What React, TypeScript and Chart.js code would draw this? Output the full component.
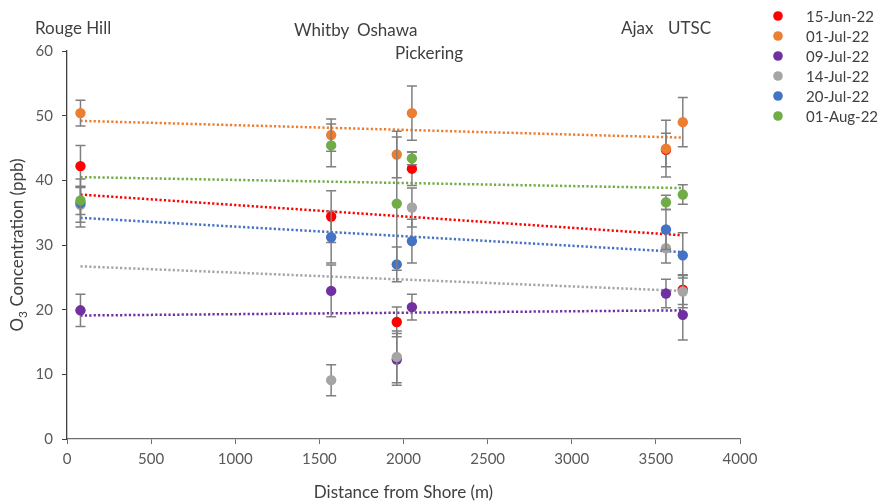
import React, { useEffect, useRef } from "react";
import { Chart, registerables } from "chart.js";

Chart.register(...registerables);

// ---- data ----
const siteNames = ["Rouge Hill", "Whitby", "Oshawa", "Pickering", "Ajax", "UTSC"];
const siteDistances = [80, 1570, 1960, 2050, 3560, 3660];

const seriesLabels = ["15-Jun-22", "01-Jul-22", "09-Jul-22", "14-Jul-22", "20-Jul-22", "01-Aug-22"];
const seriesColors = ["#FF0000", "#ED7D31", "#7030A0", "#A5A5A5", "#4472C4", "#70AD47"];

const jun15 = [42.2, 34.4, 18.1, 41.8, 44.7, 23.1];
const jul01 = [50.4, 47.0, 44.0, 50.4, 44.9, 49.0];
const jul09 = [19.9, 22.9, 12.3, 20.4, 22.5, 19.2];
const jul14 = [36.2, 9.1, 12.7, 35.8, 29.5, 22.8];
const jul20 = [36.5, 31.2, 27.0, 30.6, 32.4, 28.4];
const aug01 = [36.9, 45.4, 36.4, 43.4, 36.6, 37.8];

const jun15Err = [3.2, 4.0, 2.3, 2.6, 2.6, 2.3];
const jul01Err = [2.0, 2.5, 3.6, 4.2, 4.4, 3.8];
const jul09Err = [2.5, 4.0, 4.0, 2.0, 2.2, 3.9];
const jul14Err = [2.7, 2.4, 4.0, 3.0, 2.3, 2.5];
const jul20Err = [3.7, 4.0, 2.7, 3.4, 3.1, 3.5];
const aug01Err = [2.2, 3.3, 10.3, 1.0, 1.1, 1.5];

// linear trend line values at first and last site
const trendStart = [37.8, 49.2, 19.1, 26.7, 34.2, 40.5];
const trendEnd = [31.5, 46.6, 19.9, 22.9, 28.9, 38.8];

const seriesValues = [jun15, jul01, jul09, jul14, jul20, aug01];
const seriesErrors = [jun15Err, jul01Err, jul09Err, jul14Err, jul20Err, aug01Err];

const xMin = 0, xMax = 4000, xStep = 500;
const yMin = 0, yMax = 60, yStep = 10;

const FONT = "Lato, 'Open Sans', sans-serif";
const TEXT = "#404040";

// ---- layout of the annotation text (pixels) ----
const siteLabelPos: Record<string, [number, number]> = {
  "Rouge Hill": [35, 29],
  Whitby: [294, 31],
  Oshawa: [357, 31],
  Pickering: [395, 54],
  Ajax: [621, 29],
  UTSC: [668, 29],
};

const errorBarPlugin = {
  id: "errorBars",
  beforeDatasetDraw(chart: any, args: any) {
    const ds = chart.data.datasets[args.index];
    if (!ds.errors) return;
    const xs = chart.scales.x, ys = chart.scales.y;
    const ctx = chart.ctx;
    ctx.save();
    ctx.strokeStyle = "#7F7F7F";
    ctx.lineWidth = 1.5;
    ds.data.forEach((p: any, i: number) => {
      const e = ds.errors[i];
      const px = xs.getPixelForValue(p.x);
      const top = ys.getPixelForValue(p.y + e);
      const bot = ys.getPixelForValue(p.y - e);
      ctx.beginPath();
      ctx.moveTo(px, top);
      ctx.lineTo(px, bot);
      ctx.moveTo(px - 5, top);
      ctx.lineTo(px + 5, top);
      ctx.moveTo(px - 5, bot);
      ctx.lineTo(px + 5, bot);
      ctx.stroke();
    });
    ctx.restore();
  },
};

const annotationPlugin = {
  id: "annotations",
  afterDraw(chart: any) {
    const ctx = chart.ctx;
    const area = chart.chartArea;
    ctx.save();
    ctx.fillStyle = TEXT;
    ctx.textBaseline = "middle";
    ctx.textAlign = "left";
    ctx.font = `17px ${FONT}`;
    siteNames.forEach((n) => {
      const [x, y] = siteLabelPos[n];
      ctx.fillText(n, x, y);
    });

    // legend
    ctx.font = `15px ${FONT}`;
    seriesLabels.forEach((l, i) => {
      const y = 16 + i * 20;
      ctx.fillStyle = seriesColors[i];
      ctx.beginPath();
      ctx.arc(778, y, 4.8, 0, Math.PI * 2);
      ctx.fill();
      ctx.fillStyle = TEXT;
      ctx.fillText(l, 806, y + 1);
    });

    // x title
    ctx.font = `17px ${FONT}`;
    ctx.textAlign = "center";
    ctx.fillText("Distance from Shore (m)", (area.left + area.right) / 2, 493);

    // y title with subscript
    ctx.translate(18, (area.top + area.bottom) / 2);
    ctx.rotate(-Math.PI / 2);
    ctx.textAlign = "left";
    const f = `17px ${FONT}`;
    const fs = `12px ${FONT}`;
    ctx.font = f;
    const wO = ctx.measureText("O").width;
    const rest = " Concentration (ppb)";
    const wR = ctx.measureText(rest).width;
    ctx.font = fs;
    const w3 = ctx.measureText("3").width;
    const total = wO + w3 + wR;
    let x0 = -total / 2;
    ctx.font = f;
    ctx.fillText("O", x0, 0);
    ctx.font = fs;
    ctx.fillText("3", x0 + wO, 5);
    ctx.font = f;
    ctx.fillText(rest, x0 + wO + w3, 0);
    ctx.restore();
  },
};

export default function App() {
  const ref = useRef<HTMLCanvasElement>(null);
  useEffect(() => {
    document.body.style.margin = "0";
    const first = siteDistances[0];
    const last = siteDistances[siteDistances.length - 1];
    const trendSets = seriesLabels.map((l, i) => ({
      type: "line" as const,
      label: l + " trend",
      data: [
        { x: first, y: trendStart[i] },
        { x: last, y: trendEnd[i] },
      ],
      borderColor: seriesColors[i],
      borderWidth: 2.5,
      borderDash: [2.2, 2.2],
      pointRadius: 0,
      fill: false,
      order: 100,
    }));
    const pointSets = seriesLabels.map((l, i) => ({
      type: "scatter" as const,
      label: l,
      data: siteDistances.map((x, j) => ({ x, y: seriesValues[i][j] })),
      errors: seriesErrors[i],
      backgroundColor: seriesColors[i],
      borderColor: seriesColors[i],
      pointRadius: 5.2,
      pointBorderWidth: 0,
      order: 10 - i,
    }));
    const chart = new Chart(ref.current!, {
      type: "scatter",
      data: { datasets: [...trendSets, ...pointSets] as any },
      options: {
        responsive: false,
        animation: false,
        layout: { padding: { top: 51, right: 140, left: 0, bottom: 0 } },
        plugins: { legend: { display: false }, tooltip: { enabled: false } },
        scales: {
          x: {
            type: "linear",
            min: xMin,
            max: xMax,
            ticks: {
              stepSize: xStep,
              color: "#595959",
              font: { family: FONT, size: 15 },
              padding: 6,
              callback: (v: any) => String(v),
            },
            grid: { drawOnChartArea: false, drawTicks: true, tickLength: 5, color: "#6F6F6F" },
            border: { display: true, color: "#6F6F6F", width: 1.3 },
            afterFit: (s: any) => {
              s.height = 65;
            },
          },
          y: {
            type: "linear",
            min: yMin,
            max: yMax,
            ticks: {
              stepSize: yStep,
              color: "#595959",
              font: { family: FONT, size: 15 },
              padding: 9,
            },
            grid: { drawOnChartArea: false, drawTicks: true, tickLength: 5, color: "#404040" },
            border: { display: true, color: "#404040", width: 1.3 },
            afterFit: (s: any) => {
              s.width = 67;
            },
          },
        },
      },
      plugins: [errorBarPlugin, annotationPlugin],
    });
    return () => chart.destroy();
  }, []);
  return (
    <div style={{ width: 880, height: 504, background: "#fff" }}>
      <canvas ref={ref} width={880} height={504} />
    </div>
  );
}
